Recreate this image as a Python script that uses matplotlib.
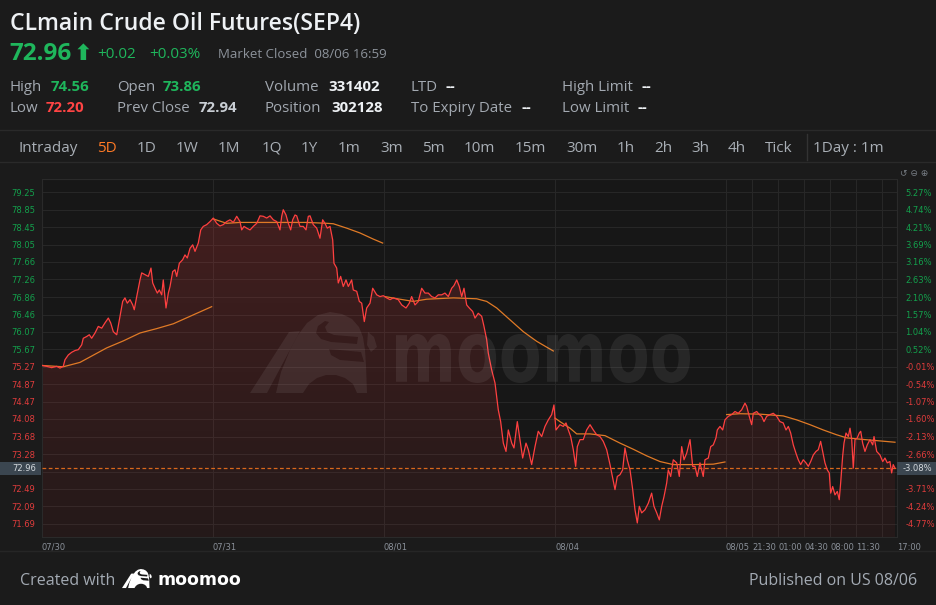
import numpy as np
import matplotlib
matplotlib.use('Agg')
import matplotlib.pyplot as plt
from matplotlib.patches import Rectangle, PathPatch, Polygon
from matplotlib.path import Path
from matplotlib.textpath import TextPath
from matplotlib.font_manager import FontProperties
from matplotlib.transforms import blended_transform_factory, Affine2D

# ---------------- data ----------------
day1_hours = [0.0, 0.63, 1.30, 1.98, 2.42, 2.86, 3.09, 3.54, 3.99, 4.44, 4.88, 5.34, 5.55, 6.01, 6.36, 6.68, 7.13, 7.57, 8.03, 8.47,
              8.92, 9.24, 9.59, 10.05, 10.49, 10.85, 11.16, 11.47, 11.84, 12.20, 12.41, 12.74, 13.18, 13.41, 13.85, 14.30, 14.66, 14.89, 15.20, 15.51,
              15.78, 16.10, 16.31, 16.68, 16.99, 17.22, 17.58, 17.89, 18.12, 18.47, 18.92, 19.23, 19.54, 19.91, 20.27, 20.58, 21.02, 21.35, 21.69, 22.15, 22.60]
day1_prices = [75.30, 75.28, 75.25, 75.28, 75.24, 75.28, 75.43, 75.54, 75.60, 75.64, 75.66, 75.77, 75.92, 75.96, 76.00, 75.92, 76.04, 76.19, 76.15, 76.27,
               76.38, 76.27, 76.07, 76.00, 76.42, 76.76, 76.84, 76.72, 76.80, 76.68, 76.57, 76.87, 77.25, 77.41, 77.37, 77.33, 77.52, 77.18, 77.06, 76.95,
               77.02, 76.91, 77.25, 76.61, 76.95, 77.10, 77.44, 77.48, 77.33, 77.63, 77.71, 77.82, 77.75, 77.97, 78.05, 77.90, 78.09, 78.39, 78.47, 78.51, 78.58]

day2_hours = [23.04, 23.50, 23.94, 24.38, 24.84, 25.29, 25.73, 26.19, 26.63, 26.86, 27.17, 27.53, 27.98, 28.42, 28.88, 29.32, 29.76, 30.22, 30.67, 31.11,
              31.57, 32.01, 32.24, 32.45, 32.82, 33.13, 33.45, 33.72, 34.03, 34.26, 34.70, 35.14, 35.51, 35.82, 36.05, 36.49, 36.95, 37.39, 37.75, 38.06,
              38.37, 38.74, 38.96, 39.10, 39.27, 39.64, 39.85, 40.17, 40.52, 40.89, 41.20, 41.65, 41.87, 42.33, 42.68, 43.00, 43.35, 43.67, 44.12, 44.48,
              45.02, 45.46, 45.91]
day2_prices = [78.66, 78.54, 78.48, 78.51, 78.58, 78.62, 78.56, 78.70, 78.58, 78.39, 78.47, 78.43, 78.39, 78.47, 78.54, 78.71, 78.70, 78.66, 78.71, 78.62,
               78.58, 78.39, 78.70, 78.85, 78.73, 78.54, 78.39, 78.62, 78.73, 78.71, 78.47, 78.47, 78.39, 78.70, 78.71, 78.51, 78.43, 78.20, 78.62, 78.54,
               78.43, 78.47, 78.28, 78.16, 77.63, 77.52, 77.18, 77.33, 77.10, 77.25, 77.10, 77.25, 77.02, 76.99, 76.76, 76.72, 76.30, 76.61, 76.72, 77.06,
               76.91, 76.87, 76.89]

day3_hours = [46.36, 46.81, 47.25, 47.92, 48.38, 48.96, 49.40, 49.72, 50.17, 50.61, 51.07, 51.51, 51.96, 52.41, 52.86, 53.30, 53.76, 54.20, 54.65, 55.10,
              55.41, 55.78, 56.13, 56.45, 56.76, 57.12, 57.47, 57.93, 58.24, 58.68, 59.14, 59.45, 59.81, 60.03, 60.48, 60.93, 61.16, 61.37, 61.69, 62.05,
              62.41, 62.72, 63.18, 63.48, 63.93, 64.29, 64.65, 65.10, 65.41, 65.86, 66.31, 66.75, 67.21, 67.65, 68.10, 68.55, 68.86]
day3_prices = [76.84, 76.80, 76.84, 76.80, 76.68, 76.61, 76.72, 76.87, 76.68, 76.76, 77.06, 76.95, 76.95, 76.87, 76.84, 76.91, 76.91, 76.95, 76.87, 77.06,
               77.12, 77.25, 77.10, 76.87, 77.06, 76.68, 76.61, 76.53, 76.38, 76.49, 76.42, 76.19, 75.89, 75.58, 75.20, 74.90, 74.59, 74.29, 74.02, 73.53,
               73.34, 73.83, 73.53, 73.42, 74.02, 73.61, 73.19, 73.53, 73.38, 73.04, 73.45, 73.80, 73.68, 73.91, 74.06, 74.18, 74.40]

day4_hours = [69.13, 69.67, 70.11, 70.48, 70.79, 71.11, 71.46, 71.78, 72.00, 72.36, 72.80, 73.26, 73.71, 74.15, 74.61, 75.05, 75.49, 75.95, 76.40, 76.76,
              77.07, 77.38, 77.74, 78.10, 78.41, 78.72, 79.09, 79.45, 79.76, 80.07, 80.34, 80.66, 81.10, 81.55, 82.00, 82.31, 82.68, 83.03, 83.35, 83.66,
              84.02, 84.24, 84.56, 84.91, 85.37, 85.72, 86.04, 86.35, 86.71, 87.16, 87.52, 87.83, 88.14, 88.50, 88.94, 89.17, 89.62, 89.94, 90.29, 90.65,
              90.83, 91.19, 91.55]
day4_prices = [73.83, 73.95, 73.91, 73.99, 73.83, 73.68, 73.38, 73.00, 73.45, 73.61, 73.61, 73.83, 73.95, 73.83, 73.72, 73.68, 73.57, 73.38, 73.04, 72.73,
               72.47, 72.77, 72.81, 72.92, 73.42, 73.15, 72.92, 72.47, 72.01, 71.71, 72.09, 71.94, 72.01, 72.16, 72.39, 72.09, 71.94, 71.78, 72.09, 72.31,
               72.62, 72.92, 72.77, 73.15, 73.08, 72.77, 73.45, 73.15, 73.30, 73.61, 73.00, 73.00, 72.77, 73.08, 72.77, 73.15, 73.19, 73.45, 73.49, 73.65,
               73.83, 73.91, 73.83]

day5_hours = [91.86, 92.31, 92.76, 93.21, 93.65, 94.11, 94.55, 94.78, 95.13, 95.45, 95.67, 96.13, 96.48, 96.80, 97.11, 97.47, 97.92, 98.36, 98.82, 99.26,
              99.70, 100.07, 100.38, 100.70, 101.05, 101.41, 101.72, 102.04, 102.39, 102.76, 103.07, 103.39, 103.74, 104.10, 104.41, 104.73, 105.00, 105.31, 105.62, 105.89,
              106.08, 106.35, 106.66, 106.97, 107.23, 107.42, 107.69, 107.87, 108.14, 108.45, 108.68, 108.91, 109.12, 109.35, 109.66, 109.93, 110.12, 110.38, 110.69, 111.00,
              111.37, 111.73, 111.91, 112.27, 112.71, 113.08, 113.38, 113.69, 114.05, 114.28, 114.49, 114.73]
day5_prices = [74.06, 74.14, 74.18, 74.25, 74.21, 74.29, 74.44, 74.37, 74.14, 73.95, 74.21, 74.25, 74.18, 74.14, 74.02, 74.14, 74.18, 74.21, 74.14, 74.02,
               73.99, 73.83, 73.91, 73.76, 73.49, 73.30, 73.15, 73.04, 73.15, 73.08, 73.00, 73.11, 73.26, 73.34, 73.38, 73.57, 73.34, 73.08, 72.92, 72.85,
               72.39, 72.54, 72.35, 72.43, 72.24, 72.62, 73.23, 73.53, 73.76, 73.68, 73.87, 73.61, 72.96, 73.61, 73.65, 73.76, 73.80, 73.53, 73.34, 73.49,
               73.61, 73.49, 73.68, 73.34, 73.26, 73.11, 73.19, 73.08, 73.11, 72.85, 73.04, 72.96]

avg1_hours = [0.0, 2.86, 5.11, 8.70, 10.94, 13.18, 15.43, 17.66, 19.91, 22.82]
avg1_values = [75.30, 75.27, 75.37, 75.70, 75.86, 76.04, 76.14, 76.25, 76.42, 76.64]
avg2_hours = [23.04, 24.84, 26.63, 31.11, 35.60, 38.29, 39.18, 40.98, 42.77, 44.56, 45.82]
avg2_values = [78.64, 78.54, 78.56, 78.56, 78.56, 78.54, 78.53, 78.43, 78.32, 78.18, 78.09]
avg3_hours = [46.13, 48.15, 49.94, 51.74, 55.32, 58.46, 59.81, 61.16, 62.95, 64.74, 66.54, 68.77]
avg3_values = [76.87, 76.81, 76.76, 76.81, 76.84, 76.82, 76.76, 76.61, 76.34, 76.07, 75.85, 75.63]
avg4_hours = [69.00, 69.67, 71.02, 71.92, 73.71, 75.73, 77.74, 79.53, 81.33, 83.12, 84.91, 87.60, 90.29, 91.86]
avg4_values = [74.10, 74.02, 73.87, 73.74, 73.74, 73.70, 73.53, 73.39, 73.24, 73.11, 73.04, 73.04, 73.05, 73.10]
avg5_hours = [92.09, 93.88, 96.57, 99.70, 101.50, 103.30, 105.08, 106.88, 108.23, 110.02, 112.71, 114.73]
avg5_values = [74.18, 74.20, 74.19, 74.15, 74.06, 73.95, 73.83, 73.72, 73.65, 73.62, 73.58, 73.55]

price_ticks = [79.25, 78.85, 78.45, 78.05, 77.66, 77.26, 76.86, 76.46, 76.07, 75.67, 75.27,
               74.87, 74.47, 74.08, 73.68, 73.28, 72.88, 72.49, 72.09, 71.69]
price_labels = ['79.25', '78.85', '78.45', '78.05', '77.66', '77.26', '76.86', '76.46', '76.07', '75.67', '75.27',
                '74.87', '74.47', '74.08', '73.68', '73.28', '', '72.49', '72.09', '71.69']
pct_labels = ['5.27%', '4.74%', '4.21%', '3.69%', '3.16%', '2.63%', '2.10%', '1.57%', '1.04%', '0.52%', '-0.01%',
              '-0.54%', '-1.07%', '-1.60%', '-2.13%', '-2.66%', '', '-3.71%', '-4.24%', '-4.77%']
ref_price = 75.28
last_price = 72.96
last_pct = '-3.08%'

x_ticks = [0, 23, 46, 69, 92, 95.5, 99, 102.5, 106, 109.5, 113, 115]
x_labels = ['07/30', '07/31', '08/01', '08/04', '08/05', '21:30', '01:00', '04:30', '08:00', '11:30', '', '17:00']

tabs = ['Intraday', '5D', '1D', '1W', '1M', '1Q', '1Y', '1m', '3m', '5m', '10m', '15m', '30m', '1h', '2h', '3h', '4h', 'Tick']

# ---------------- style ----------------
W, H = 937, 605
BG = '#1b1b1b'
PLOT_BG = '#171717'
GRID = '#272727'
LINE_RED = '#ff4040'
ORANGE = '#e07a26'
GREEN = '#1fb65c'
TICK_GREEN = '#13a04c'
TICK_RED = '#e03c3c'
LABEL = '#a3a9b1'
WHITE = '#eef1f4'
FONT = ['Open Sans', 'DejaVu Sans']
SMALL = ['DejaVu Sans']

fig = plt.figure(figsize=(W / 100, H / 100), dpi=100, facecolor=BG)


def X(px):
    return px / W


def Y(py):
    return 1 - py / H


def t(x, y, s, size, color, weight='normal', ha='left', family=FONT, **kw):
    fig.text(X(x), Y(y), s, fontsize=size, color=color, fontweight=weight, ha=ha,
             va='baseline', family=family, **kw)


# ---------------- header ----------------
t(10, 29.5, 'CLmain Crude Oil Futures(SEP4)', 16.6, WHITE, 'semibold')
t(9, 60, '72.96', 17.5, GREEN, 'bold')
t(74, 60, '\u2b06', 16, GREEN, 'bold', family=['DejaVu Sans'])
t(97, 57.5, '+0.02', 11, GREEN)
t(149, 57.5, '+0.03%', 11, GREEN)
t(218, 57.5, 'Market Closed  08/06 16:59', 9.5, '#8d939b')

rows = [
    (10, 90.7, 'High', 51, '74.56', GREEN),
    (10, 112.3, 'Low', 46, '72.20', '#ff4444'),
    (117, 90.7, 'Open', 163, '73.86', GREEN),
    (117, 112.3, 'Prev Close', 199, '72.94', '#c9ced4'),
    (265, 90.7, 'Volume', 328, '331402', WHITE),
    (265, 112.3, 'Position', 331, '302128', WHITE),
    (411, 90.7, 'LTD', 446, '--', WHITE),
    (411, 112.3, 'To Expiry Date', 521, '--', WHITE),
    (562, 90.7, 'High Limit', 642, '--', WHITE),
    (562, 112.3, 'Low Limit', 637, '--', WHITE),
]
for lx, ly, lab, vx, val, vc in rows:
    t(lx, ly, lab, 10.8, LABEL)
    t(vx, ly, val, 10.8, vc, 'bold')

fig.add_artist(plt.Line2D([0, 1], [Y(130), Y(130)], color='#2a2a2a', lw=1))
fig.add_artist(plt.Line2D([0, 1], [Y(162), Y(162)], color='#2a2a2a', lw=1))

tab_x = [19, 97, 137, 176, 218, 262, 301, 338, 380, 422, 464, 515, 566, 617, 654, 691, 728, 765]
for tx, name in zip(tab_x, tabs):
    t(tx, 151.7, name, 11, '#ff7a25' if name == '5D' else '#a9afb6')
fig.add_artist(plt.Line2D([X(807.5), X(807.5)], [Y(134), Y(160)], color='#333333', lw=1))
t(813, 151.7, '1Day : 1m', 11, '#a9afb6')

# ---------------- chart ----------------
ax = fig.add_axes([X(42), Y(537), X(897) - X(42), Y(179) - Y(537)])
ax.set_facecolor(PLOT_BG)
ymin, ymax = 71.39, 79.55
ax.set_xlim(0, 115)
ax.set_ylim(ymin, ymax)

hours = day1_hours + day2_hours + day3_hours + day4_hours + day5_hours
prices = day1_prices + day2_prices + day3_prices + day4_prices + day5_prices

for v in price_ticks:
    ax.axhline(v, color=GRID, lw=0.8, zorder=0)
for v in x_ticks:
    ax.axvline(v, color=GRID, lw=0.8, zorder=0)

verts = [(hours[0], ymin)] + list(zip(hours, prices)) + [(hours[-1], ymin)]
poly = Polygon(verts, closed=True, facecolor='none', edgecolor='none')
ax.add_patch(poly)
g = np.linspace(1, 0, 256).reshape(-1, 1)
img = np.zeros((256, 1, 4))
img[..., 0] = 1.0
img[..., 1] = 0.25
img[..., 2] = 0.25
img[..., 3] = 0.06 + 0.13 * g
im = ax.imshow(img, extent=[0, 115, ymin, max(prices)], aspect='auto', origin='upper',
               zorder=1, interpolation='bilinear')
im.set_clip_path(poly)

# watermark word
fp = FontProperties(family='DejaVu Sans', weight='bold')
tp = TextPath((0, 0), 'moomoo', size=1, prop=fp)
bb = tp.get_extents()
x0, x1, y0, y1 = X(396), X(690), Y(383), Y(334)
tr = Affine2D().translate(-bb.x0, -bb.y0).scale((x1 - x0) / bb.width, (y1 - y0) / bb.height).translate(x0, y0) + fig.transFigure
fig.add_artist(PathPatch(tp, transform=tr, facecolor=(1, 1, 1, 0.07), edgecolor='none', zorder=2))

# moomoo bull glyph outline (reference pixel units of the large watermark)
LOGO_OUTER = [(276, 393), (281, 372), (290, 350), (298, 335), (307, 323), (318, 315), (330, 312), (342, 314),
              (352, 319), (359, 327), (363, 337), (365, 350), (366, 365), (367, 393), (357, 393), (353, 384),
              (345, 378), (336, 375), (326, 375), (317, 378), (309, 384), (303, 393)]
LOGO_CURL = [(325, 321), (318, 326), (316, 333), (321, 339), (331, 342), (345, 343), (357, 344),
             (358, 337), (346, 336), (334, 335), (327, 332), (325, 327), (329, 322)]
LOGO_SLIT = [(329, 349), (361, 352), (364, 362), (340, 360), (331, 355)]
LOGO_STRIPE = [(250, 393), (267, 393), (300, 331), (289, 332)]
LOGO_EAR = [(368, 332), (374, 337), (377, 347), (371, 352), (367, 345)]


def orient(pts, ccw=True):
    a = 0.5 * sum(x0_ * y1_ - x1_ * y0_ for (x0_, y0_), (x1_, y1_) in zip(pts, pts[1:] + pts[:1]))
    return pts if (a > 0) == ccw else pts[::-1]


def bull(ox, oy, s, color, alpha):
    def conv(pts):
        return [(X(ox + (px - 250) * s), Y(oy + (py - 312) * s)) for px, py in pts]
    verts_, codes_ = [], []
    for pts, ccw in [(LOGO_OUTER, True), (LOGO_CURL, False), (LOGO_SLIT, False),
                     (LOGO_STRIPE, True), (LOGO_EAR, True)]:
        p = conv(orient(pts, ccw))
        verts_ += p + [p[0]]
        codes_ += [Path.MOVETO] + [Path.LINETO] * (len(p) - 1) + [Path.CLOSEPOLY]
    fig.add_artist(PathPatch(Path(verts_, codes_), transform=fig.transFigure, facecolor=color,
                             alpha=alpha, edgecolor='none', zorder=2))


bull(250, 312, 1.0, 'white', 0.07)

ax.plot(hours, prices, color=LINE_RED, lw=0.9, zorder=4)
for hh, vv in [(avg1_hours, avg1_values), (avg2_hours, avg2_values), (avg3_hours, avg3_values),
               (avg4_hours, avg4_values), (avg5_hours, avg5_values)]:
    ax.plot(hh, vv, color=ORANGE, lw=0.9, zorder=3)
ax.axhline(last_price, color='#d9681c', lw=0.9, ls=(0, (3, 2)), zorder=3)

for s in ax.spines.values():
    s.set_color('#2a2a2a')
    s.set_linewidth(0.8)

ax.set_yticks(price_ticks)
ax.set_yticklabels(price_labels, fontsize=6, family=SMALL)
for lab, v in zip(ax.get_yticklabels(), price_ticks):
    lab.set_color(TICK_GREEN if v > ref_price else TICK_RED)
ax.tick_params(axis='y', length=0, pad=5)
ax.set_xticks(x_ticks)
ax.set_xticklabels(x_labels, fontsize=6, family=SMALL, color='#8a9099', ha='left')
ax.tick_params(axis='x', length=0, pad=4)

ax2 = ax.twinx()
ax2.set_ylim(ymin, ymax)
ax2.set_yticks(price_ticks)
ax2.set_yticklabels(pct_labels, fontsize=6, family=SMALL)
for lab, v in zip(ax2.get_yticklabels(), price_ticks):
    lab.set_color(TICK_GREEN if v > ref_price else TICK_RED)
ax2.tick_params(axis='y', length=0, pad=6)
for s in ax2.spines.values():
    s.set_visible(False)

bt = blended_transform_factory(fig.transFigure, ax.transData)
hh = 6.5 / (ax.bbox.height / (ymax - ymin))
ax.add_patch(Rectangle((0, last_price - hh), X(41), 2 * hh, transform=bt, facecolor='#3b4650',
                       edgecolor='none', clip_on=False, zorder=10))
ax.add_patch(Rectangle((X(897), last_price - hh), X(40), 2 * hh, transform=bt, facecolor='#3b4650',
                       edgecolor='none', clip_on=False, zorder=10))
ax.text(X(36), last_price, f'{last_price:.2f}', transform=bt, ha='right', va='center', fontsize=6,
        family=SMALL, color='#d5dade', zorder=11, clip_on=False)
ax.text(X(903), last_price, last_pct, transform=bt, ha='left', va='center', fontsize=6,
        family=SMALL, color='#d5dade', zorder=11, clip_on=False)

t(900, 176, '\u21ba \u2296 \u2295', 6.5, '#777d84', ha='left', family=['DejaVu Sans'])

# ---------------- footer ----------------
fig.add_artist(plt.Line2D([0, 1], [Y(551), Y(551)], color='#262626', lw=1))
t(20, 585, 'Created with', 11.5, '#a3aab3')
bull(122, 569, 0.235, 'white', 1.0)
t(158, 585, 'moomoo', 12.5, 'white', 'bold', family=['DejaVu Sans'])
t(917, 585, 'Published on US 08/06', 11.5, '#a3aab3', ha='right')

fig.savefig('out.png', dpi=100, facecolor=BG)
